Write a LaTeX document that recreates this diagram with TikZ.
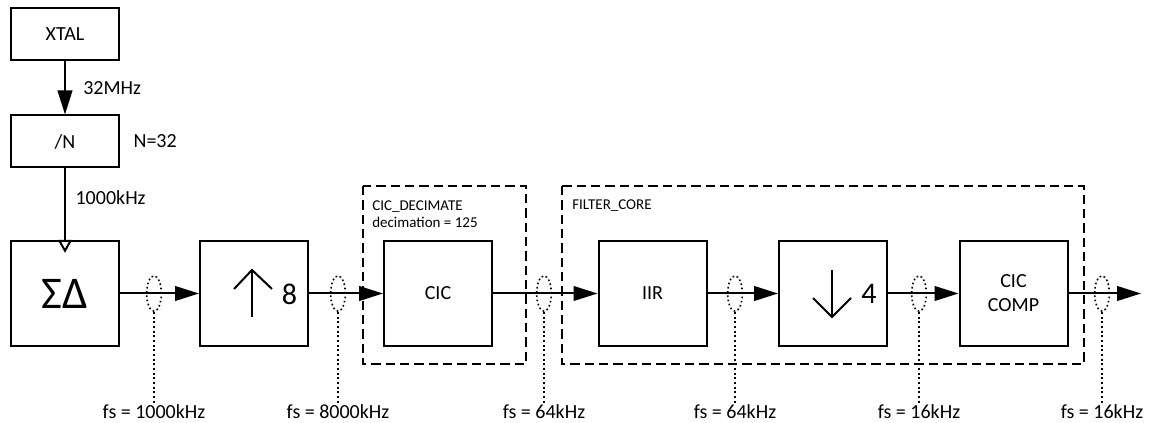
\documentclass[tikz,border=0pt]{standalone}
\usepackage{fontspec}
\setmainfont{Carlito}
\usetikzlibrary{arrows.meta,calc,positioning,shapes.geometric}

\begin{document}
\begin{tikzpicture}[
      x=0.75pt, y=-0.75pt,
      blk/.style={draw, line width=1.5pt, minimum width=81pt, minimum height=79pt, inner sep=0pt, font=\fontsize{15}{18}\selectfont, align=center},
      clkblk/.style={blk, minimum height=39pt},
      wire/.style={line width=1.5pt, -{Triangle[length=18pt, width=11pt]}},
      frame/.style={line width=1.5pt, dash pattern=on 7pt off 3.75pt},
      probe/.style={ellipse, draw, line width=1.2pt, dotted, minimum width=11pt, minimum height=26.5pt, inner sep=0pt},
      tap/.style={line width=1.5pt, dotted},
      lbl/.style={font=\fontsize{15}{18}\selectfont, inner sep=1pt},
      grplbl/.style={font=\fontsize{11.25}{12.75}\selectfont, align=left, inner sep=0pt},
      glyph/.style={line width=1.5pt}
    ]
      \useasboundingbox (0,0) rectangle (1151,423);

      % Clock path
      \node[clkblk] (xtal) at (65,34) {XTAL};
      \node[clkblk] (divn) at (65,141.5) {/N};
      \node[lbl, anchor=west] (divlbl) at (132,141) {N=32};
      \draw[wire] (xtal) -- node[lbl, right=12pt] (clklbl) {32MHz} (divn);

      % Modulator
      \node[blk] (sdm) at (65,293.5) {\fontsize{34}{36}\selectfont ΣΔ};
      \draw[line width=1.5pt, -{Triangle[open, length=9.75pt, width=10.5pt]}, shorten >=-9.75pt] (divn) -- (sdm);
      \node[lbl, anchor=west] (fclk) at (74,198) {1000kHz};

      % Upsampler
      \node[blk] (upsamp) at (254,293.5) {};
      \draw[glyph] (252,317) -- (252,270);
      \draw[glyph] (234,289) -- (252,270) -- (272,289);
      \node[lbl, font=\fontsize{22.5}{24}\selectfont] (upfac) at (289.5,294) {8};

      % Group frames
      \draw[frame] (363,186) rectangle (526,364);
      \node[grplbl, anchor=west] (ciclbl) at (372,214.5) {CIC\_DECIMATE\\decimation = 125};
      \draw[frame] (562,186) rectangle (1084,364);
      \node[grplbl, anchor=west] (corelbl) at (572,206) {FILTER\_CORE};

      % Filter chain
      \node[blk] (cic) at (438,293.5) {CIC};
      \node[blk] (iir) at (652.5,293.5) {IIR};
      \node[blk] (downsamp) at (833,293.5) {};
      \draw[glyph] (832,270) -- (832,317);
      \draw[glyph] (813,298) -- (832,317) -- (851,298);
      \node[lbl, font=\fontsize{22.5}{24}\selectfont] (dnfac) at (869,294) {4};
      \node[blk] (ciccomp) at (1013.5,293.5) {CIC\\COMP};
      \coordinate (out) at (1141,293.5);

      \draw[wire] (sdm) -- (upsamp);
      \draw[wire] (upsamp) -- (cic);
      \draw[wire] (cic) -- (iir);
      \draw[wire] (iir) -- (downsamp);
      \draw[wire] (downsamp) -- (ciccomp);
      \draw[wire] (ciccomp) -- (out);

      % Sample rate probes
      \foreach \x/\fs [count=\i] in {154/1000kHz, 338/8000kHz, 544/64kHz, 735/64kHz, 919/16kHz, 1102/16kHz} {
        \node[probe] (p\i) at (\x,293.5) {};
        \node[lbl] (f\i) at (\x,412) {fs = \fs};
        \draw[tap] (p\i.south) -- (f\i.north);
      }
    \end{tikzpicture}
\end{document}
